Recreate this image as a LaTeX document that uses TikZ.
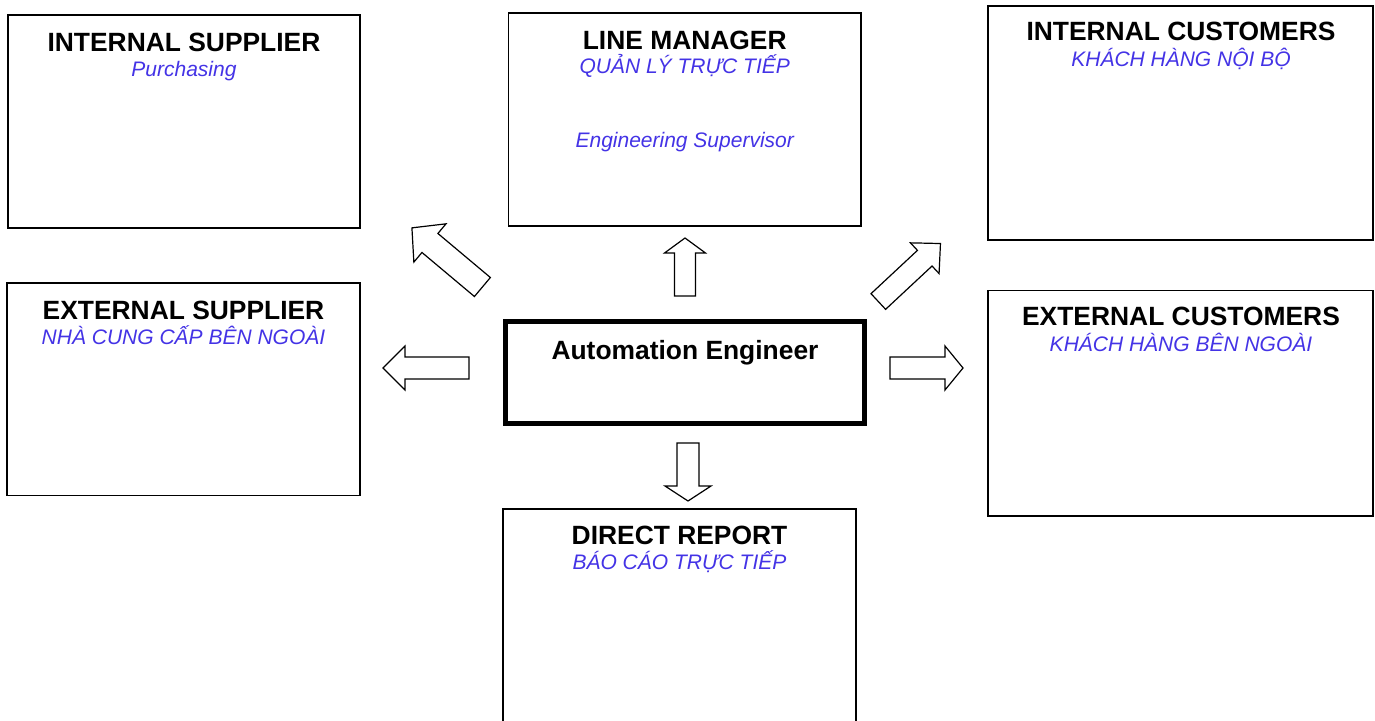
\documentclass[tikz,border=0pt]{standalone}
\usepackage{fontspec}
\setmainfont{Liberation Sans}
\definecolor{subblue}{RGB}{68,51,230}
\newcommand{\blockarr}[7]{%
  \begin{scope}[shift={(#1,#2)},rotate=#3]
    \draw[arrowline] (0,-#7) -- ({#4-#5},-#7) -- ({#4-#5},-#6) -- (#4,0)
      -- ({#4-#5},#6) -- ({#4-#5},#7) -- (0,#7) -- cycle;
  \end{scope}}
\begin{document}
\begin{tikzpicture}[x=1pt,y=-1pt,
  box/.style={draw, line width=1.3pt, inner sep=0pt},
  title/.style={font=\fontsize{26.4}{30}\selectfont\bfseries, inner sep=0pt, anchor=base},
  sub/.style={font=\fontsize{21}{25}\selectfont\itshape, text=subblue, inner sep=0pt, anchor=base},
  arrowline/.style={draw, fill=white, line width=1.2pt, line join=miter}]
\clip (0,0) rectangle (1375,720);
\fill[white] (0,0) rectangle (1375,720);

% boxes
\node[box, minimum width=352pt, minimum height=213pt] (isup) at (184,121.5) {};
\node[box, minimum width=352.5pt, minimum height=213pt] (lman) at (684.75,119.5) {};
\node[box, minimum width=385pt, minimum height=234pt] (icus) at (1180.5,123) {};
\node[box, minimum width=353pt, minimum height=212.7pt] (esup) at (183.5,389.3) {};
\node[box, minimum width=385pt, minimum height=225.3pt] (ecus) at (1180.5,403.3) {};
\node[draw, line width=5pt, inner sep=0pt, minimum width=359pt, minimum height=102pt] (auto) at (685,372.5) {};
\node[box, minimum width=353pt, minimum height=230pt] (drep) at (679.5,624) {};

% texts
\node[title] (isupT) at (184,51.7) {INTERNAL SUPPLIER};
\node[sub] (isupS) at (184,76) {Purchasing};
\node[title] (lmanT) at (684.75,49) {LINE MANAGER};
\node[sub] (lmanS) at (684.75,73.3) {QUẢN LÝ TRỰC TIẾP};
\node[sub] (lmanE) at (684.75,147.7) {Engineering Supervisor};
\node[title] (icusT) at (1181,40.7) {INTERNAL CUSTOMERS};
\node[sub] (icusS) at (1181,66) {KHÁCH HÀNG NỘI BỘ};
\node[title] (esupT) at (183.5,319) {EXTERNAL SUPPLIER};
\node[sub] (esupS) at (183.5,344) {NHÀ CUNG CẤP BÊN NGOÀI};
\node[title] (ecusT) at (1181,325.7) {EXTERNAL CUSTOMERS};
\node[sub] (ecusS) at (1181,351) {KHÁCH HÀNG BÊN NGOÀI};
\node[title] (autoT) at (685,359) {Automation Engineer};
\node[title] (drepT) at (679.5,544.3) {DIRECT REPORT};
\node[sub] (drepS) at (679.5,569) {BÁO CÁO TRỰC TIẾP};

% block arrows
\blockarr{685}{296}{90}{58}{15}{20.5}{10.5}
\blockarr{688}{443}{-90}{58}{15}{23}{11}
\blockarr{469}{368}{180}{86}{22}{22}{11}
\blockarr{890}{368}{0}{73}{18}{22}{11}
\blockarr{482.4}{287}{140}{92}{23.5}{25}{12.4}
\blockarr{878.3}{301.5}{43}{85}{21.5}{21}{10.7}
\end{tikzpicture}
\end{document}
